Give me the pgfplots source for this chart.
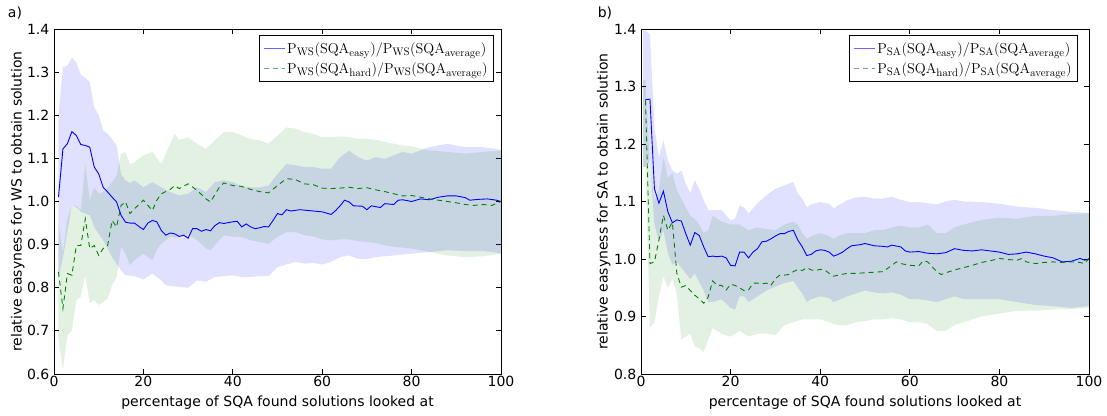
\documentclass[border=0pt]{standalone}
\usepackage[no-math]{fontspec}
\setmainfont{DejaVu Sans}
\usepackage{pgfplots}
\pgfplotsset{compat=1.18}
\usepgfplotslibrary{fillbetween}
\definecolor{mplblue}{rgb}{0,0,1}
\definecolor{mplgreen}{rgb}{0,0.5,0}
\pgfplotsset{
  panel/.style={
    scale only axis,
    width=447bp, height=345bp,
    xmin=0, xmax=100,
    xtick={0,20,...,100},
    tick align=inside,
    major tick length=5bp,
    axis line style={line width=0.9bp},
    every tick/.style={black, line width=0.8bp},
    /pgf/number format/assume math mode=true,
    tick label style={font=\fontsize{14bp}{16bp}\selectfont},
    label style={font=\fontsize{14bp}{16bp}\selectfont},
    yticklabel style={/pgf/number format/fixed, /pgf/number format/fixed zerofill, /pgf/number format/precision=1, inner xsep=0pt, xshift=-4.5bp},
    xticklabel style={inner ysep=2bp, inner xsep=0pt},
    xlabel={percentage of SQA found solutions looked at},
    xlabel style={at={(axis description cs:0.5,-0.083)}, anchor=center},
    ylabel style={at={(axis description cs:-0.081,0.5)}, anchor=center},
    legend style={at={(1,1)}, anchor=north east, xshift=-7bp, yshift=-6bp,
      draw=black, line width=0.8bp, font=\fontsize{15bp}{17bp}\selectfont,
      inner xsep=4bp, inner ysep=5bp, row sep=4bp, cells={anchor=west}},
    legend image code/.code={\draw[#1, line width=1.2bp, opacity=0.6] (0bp,0bp) -- (21bp,0bp);},
    legend cell align=left,
  },
  easyline/.style={mplblue, line width=0.9bp},
  hardline/.style={mplgreen, line width=0.9bp, dash pattern=on 5bp off 4bp},
}
\begin{document}
\begin{tikzpicture}
\path (0,0) rectangle (1107bp,416bp);
\node[font=\fontsize{14bp}{16bp}\selectfont] at (15bp,403bp) {a)};
\node[font=\fontsize{14bp}{16bp}\selectfont] at (605bp,403bp) {b)};
% ---------------- panel a ----------------
\begin{axis}[panel, at={(54bp,42bp)}, anchor=south west,
  ymin=0.6, ymax=1.4, ytick={0.6,0.7,...,1.41},
  ylabel={relative easyness for WS to obtain solution}]
\addplot[draw=none, name path=eu, forget plot] coordinates {(1,1.2)(2,1.311)(3,1.315)(4,1.333)(5,1.323)(6,1.294)(7,1.287)(8,1.277)(9,1.219)(10,1.2)(11,1.165)(12,1.157)(13,1.145)(14,1.13)(15,1.064)(16,1.049)(17,1.043)(18,1.049)(20,1.033)(22,1.045)(24,1.033)(26,1.022)(28,1.014)(30,1.018)(32,1.033)(34,1.022)(36,1.045)(38,1.049)(40,1.045)(42,1.035)(44,1.033)(46,1.033)(48,1.037)(50,1.064)(52,1.087)(54,1.084)(56,1.08)(58,1.08)(60,1.076)(62,1.076)(64,1.103)(66,1.118)(68,1.103)(70,1.095)(72,1.103)(74,1.099)(76,1.107)(78,1.115)(80,1.111)(84,1.126)(88,1.134)(92,1.126)(96,1.126)(100,1.12)};
\addplot[draw=none, name path=el, forget plot] coordinates {(1,0.82)(2,0.87)(3,0.93)(4,0.991)(5,0.987)(6,0.976)(7,0.972)(8,0.968)(9,0.941)(10,0.925)(11,0.91)(12,0.891)(13,0.871)(14,0.856)(15,0.84)(16,0.829)(18,0.827)(20,0.819)(22,0.833)(24,0.817)(25,0.806)(26,0.804)(28,0.802)(30,0.8)(32,0.817)(34,0.814)(36,0.825)(38,0.827)(40,0.829)(42,0.825)(44,0.825)(46,0.827)(48,0.827)(50,0.848)(52,0.854)(54,0.86)(56,0.856)(58,0.858)(60,0.854)(62,0.86)(64,0.871)(66,0.875)(68,0.867)(70,0.867)(72,0.871)(76,0.875)(80,0.879)(84,0.883)(88,0.887)(92,0.885)(96,0.885)(100,0.88)};
\addplot[mplblue, fill opacity=0.12, draw=none, forget plot] fill between[of=eu and el];
\addplot[draw=none, name path=hu, forget plot] coordinates {(1,0.95)(2,0.88)(3,0.96)(4,0.99)(5,0.99)(6,0.98)(7,1.087)(8,1.003)(9,1.033)(10,1.018)(11,1.022)(12,1.033)(13,1.045)(14,1.06)(15,1.111)(16,1.115)(17,1.087)(18,1.091)(20,1.107)(22,1.115)(24,1.087)(26,1.134)(27,1.157)(28,1.143)(30,1.149)(32,1.134)(34,1.122)(36,1.142)(38,1.161)(40,1.161)(42,1.153)(44,1.145)(46,1.142)(48,1.134)(50,1.153)(52,1.172)(54,1.169)(56,1.161)(58,1.157)(60,1.149)(62,1.149)(64,1.151)(66,1.149)(68,1.145)(70,1.145)(72,1.143)(74,1.138)(76,1.134)(78,1.13)(80,1.128)(84,1.118)(88,1.115)(92,1.111)(96,1.115)(100,1.118)};
\addplot[draw=none, name path=hl, forget plot] coordinates {(1,0.68)(2,0.61)(3,0.69)(4,0.70)(5,0.771)(6,0.779)(7,0.829)(8,0.764)(9,0.771)(10,0.76)(11,0.767)(12,0.775)(13,0.806)(14,0.825)(15,0.895)(16,0.879)(17,0.852)(18,0.864)(20,0.879)(22,0.864)(23,0.887)(24,0.902)(26,0.918)(28,0.918)(30,0.925)(32,0.91)(34,0.891)(35,0.887)(37,0.91)(38,0.922)(40,0.918)(42,0.918)(44,0.91)(46,0.906)(48,0.902)(50,0.918)(52,0.929)(54,0.929)(56,0.922)(58,0.919)(60,0.912)(62,0.91)(64,0.912)(66,0.912)(68,0.908)(70,0.906)(72,0.904)(74,0.898)(76,0.895)(78,0.893)(80,0.891)(84,0.883)(88,0.875)(92,0.871)(96,0.873)(100,0.879)};
\addplot[mplgreen, fill opacity=0.11, draw=none, forget plot] fill between[of=hu and hl];
\addplot[easyline] coordinates {(1,1.01)(2,1.122)(3,1.134)(4,1.162)(5,1.153)(6,1.132)(7,1.13)(8,1.126)(9,1.08)(10,1.064)(11,1.033)(12,1.022)(13,1.01)(14,0.999)(15,0.968)(16,0.952)(17,0.95)(18,0.95)(19,0.942)(20,0.935)(21,0.95)(22,0.956)(23,0.953)(24,0.933)(25,0.922)(26,0.927)(27,0.925)(28,0.919)(29,0.922)(30,0.915)(31,0.937)(32,0.937)(33,0.931)(34,0.935)(35,0.932)(36,0.944)(37,0.951)(38,0.949)(40,0.953)(41,0.954)(42,0.941)(43,0.948)(44,0.941)(45,0.937)(46,0.939)(47,0.942)(48,0.941)(49,0.956)(50,0.972)(51,0.969)(52,0.981)(53,0.978)(55,0.981)(57,0.979)(60,0.976)(62,0.97)(63,0.979)(64,0.99)(65,1.003)(66,0.999)(67,0.99)(69,0.989)(70,0.981)(71,0.99)(73,0.986)(74,0.995)(76,0.993)(77,1.003)(78,1.004)(80,1.0)(82,1.006)(84,1.004)(86,1.01)(88,1.013)(90,1.013)(92,1.009)(93,1.003)(95,1.005)(97,1.006)(99,1.003)(100,1.0)};
\addlegendentry{$\mathrm{P}_{\mathrm{WS}}(\mathrm{SQA}_{\mathrm{easy}})/\mathrm{P}_{\mathrm{WS}}(\mathrm{SQA}_{\mathrm{average}})$}
\addplot[hardline] coordinates {(1,0.837)(2,0.752)(3,0.833)(4,0.829)(5,0.898)(6,0.898)(7,0.96)(8,0.891)(9,0.898)(10,0.875)(11,0.891)(12,0.898)(13,0.956)(14,0.941)(15,0.991)(16,0.999)(17,0.972)(18,0.983)(20,1.003)(22,0.979)(23,1.003)(24,1.018)(26,1.028)(27,1.037)(28,1.03)(30,1.041)(32,1.026)(34,1.006)(35,0.999)(37,1.033)(38,1.043)(40,1.037)(42,1.035)(44,1.028)(46,1.023)(48,1.02)(50,1.037)(52,1.053)(54,1.051)(56,1.041)(58,1.039)(60,1.031)(62,1.03)(64,1.031)(66,1.033)(68,1.03)(70,1.032)(72,1.027)(74,1.023)(76,1.018)(78,1.013)(80,1.014)(82,1.01)(84,1.006)(86,1.003)(88,1.0)(90,0.997)(92,0.993)(94,0.991)(96,0.993)(98,0.991)(100,1.0)};
\addlegendentry{$\mathrm{P}_{\mathrm{WS}}(\mathrm{SQA}_{\mathrm{hard}})/\mathrm{P}_{\mathrm{WS}}(\mathrm{SQA}_{\mathrm{average}})$}
\end{axis}
% ---------------- panel b ----------------
\begin{axis}[panel, at={(641bp,42bp)}, anchor=south west, width=448bp,
  ymin=0.8, ymax=1.4, ytick={0.8,0.9,...,1.41},
  ylabel={relative easyness for SA to obtain solution},
  ylabel style={at={(axis description cs:-0.083,0.5)}, anchor=center},
  legend style={xshift=-4bp}]
\addplot[draw=none, name path=eu, forget plot] coordinates {(0.5,1.397)(1,1.397)(2,1.391)(3,1.229)(4,1.177)(5,1.206)(6,1.171)(7,1.154)(8,1.148)(9,1.154)(10,1.131)(11,1.114)(12,1.137)(13,1.122)(14,1.102)(15,1.085)(16,1.085)(18,1.085)(20,1.067)(21,1.07)(22,1.093)(23,1.09)(24,1.079)(26,1.097)(28,1.111)(30,1.122)(32,1.128)(34,1.134)(35,1.114)(36,1.105)(37,1.09)(38,1.095)(40,1.099)(42,1.096)(43,1.088)(44,1.093)(46,1.102)(48,1.107)(50,1.108)(52,1.105)(54,1.105)(56,1.108)(58,1.103)(60,1.099)(62,1.099)(64,1.097)(66,1.095)(68,1.1)(70,1.103)(72,1.1)(76,1.099)(80,1.096)(84,1.091)(88,1.089)(92,1.085)(96,1.082)(100,1.08)};
\addplot[draw=none, name path=el, forget plot] coordinates {(0.5,1.16)(1,1.16)(2,1.17)(3,1.06)(4,1.03)(5,1.05)(6,1.01)(7,0.99)(8,0.995)(9,0.985)(10,0.975)(11,0.965)(12,0.975)(13,0.96)(14,0.945)(15,0.925)(16,0.925)(18,0.93)(20,0.915)(21,0.912)(22,0.935)(23,0.935)(24,0.925)(26,0.935)(28,0.945)(30,0.952)(32,0.958)(34,0.962)(35,0.95)(36,0.94)(37,0.925)(38,0.93)(40,0.935)(42,0.932)(43,0.925)(44,0.928)(46,0.935)(48,0.94)(50,0.945)(52,0.942)(54,0.94)(56,0.942)(58,0.938)(60,0.93)(62,0.93)(64,0.928)(66,0.925)(68,0.93)(70,0.935)(72,0.93)(76,0.93)(80,0.93)(84,0.925)(88,0.92)(92,0.918)(96,0.915)(100,0.918)};
\addplot[mplblue, fill opacity=0.12, draw=none, forget plot] fill between[of=eu and el];
\addplot[draw=none, name path=hu, forget plot] coordinates {(0.5,1.31)(1,1.31)(2,1.16)(3,1.10)(4,1.12)(5,1.177)(6,1.14)(7,1.15)(8,1.12)(9,1.105)(10,1.09)(11,1.075)(12,1.07)(13,1.06)(14,1.045)(15,1.05)(16,1.075)(18,1.065)(20,1.06)(22,1.06)(24,1.05)(26,1.055)(28,1.052)(30,1.05)(32,1.06)(34,1.065)(35,1.06)(36,1.045)(37,1.035)(38,1.04)(40,1.045)(42,1.04)(43,1.035)(44,1.04)(46,1.045)(48,1.045)(50,1.045)(52,1.05)(54,1.05)(56,1.055)(58,1.058)(60,1.055)(62,1.055)(64,1.06)(66,1.045)(68,1.045)(70,1.055)(72,1.06)(76,1.068)(80,1.072)(84,1.07)(88,1.075)(92,1.075)(96,1.078)(100,1.08)};
\addplot[draw=none, name path=hl, forget plot] coordinates {(0.5,1.16)(1,1.16)(2,0.88)(3,0.89)(4,0.935)(5,0.97)(6,0.95)(7,0.965)(8,0.94)(9,0.86)(10,0.865)(11,0.87)(12,0.848)(13,0.845)(14,0.838)(15,0.86)(16,0.88)(18,0.87)(20,0.865)(22,0.875)(24,0.865)(26,0.87)(28,0.87)(30,0.868)(32,0.885)(34,0.89)(36,0.895)(38,0.895)(40,0.895)(42,0.89)(44,0.885)(46,0.885)(48,0.89)(50,0.892)(52,0.895)(54,0.895)(56,0.897)(58,0.895)(60,0.89)(62,0.89)(64,0.887)(66,0.875)(68,0.875)(70,0.885)(72,0.89)(76,0.9)(80,0.905)(84,0.91)(88,0.91)(92,0.912)(96,0.913)(100,0.915)};
\addplot[mplgreen, fill opacity=0.11, draw=none, forget plot] fill between[of=hu and hl];
\addplot[easyline] coordinates {(1,1.277)(2,1.278)(3,1.122)(4,1.097)(5,1.118)(6,1.082)(7,1.063)(8,1.068)(9,1.066)(10,1.044)(11,1.024)(12,1.046)(13,1.041)(14,1.021)(15,1.004)(16,1.005)(17,1.004)(18,1.005)(19,1.002)(20,0.989)(21,0.988)(22,1.012)(23,1.012)(24,1.002)(25,1.012)(26,1.018)(27,1.03)(28,1.031)(29,1.035)(30,1.04)(31,1.044)(32,1.044)(33,1.048)(34,1.05)(35,1.033)(36,1.021)(37,1.006)(38,1.008)(39,1.014)(40,1.016)(41,1.015)(42,1.012)(43,1.005)(44,1.008)(45,1.012)(46,1.018)(47,1.023)(48,1.024)(49,1.025)(50,1.027)(52,1.023)(54,1.022)(55,1.021)(56,1.024)(58,1.021)(59,1.014)(60,1.012)(62,1.013)(64,1.01)(66,1.009)(68,1.011)(70,1.018)(72,1.015)(74,1.014)(76,1.016)(78,1.014)(80,1.012)(82,1.008)(84,1.009)(86,1.012)(88,1.009)(90,1.005)(92,1.002)(94,0.995)(96,0.996)(98,1.001)(99,0.998)(100,1.0)};
\addlegendentry{$\mathrm{P}_{\mathrm{SA}}(\mathrm{SQA}_{\mathrm{easy}})/\mathrm{P}_{\mathrm{SA}}(\mathrm{SQA}_{\mathrm{average}})$}
\addplot[hardline] coordinates {(1,1.276)(2,0.992)(3,0.995)(4,1.033)(5,1.076)(6,1.05)(7,1.064)(8,0.975)(9,0.951)(10,0.954)(11,0.945)(12,0.937)(13,0.931)(14,0.923)(15,0.934)(16,0.962)(17,0.954)(18,0.954)(19,0.946)(20,0.956)(21,0.954)(22,0.95)(23,0.945)(24,0.946)(25,0.958)(26,0.958)(27,0.957)(28,0.958)(29,0.954)(30,0.966)(31,0.972)(32,0.972)(33,0.973)(34,0.978)(35,0.982)(36,0.98)(37,0.985)(38,0.981)(39,0.98)(40,0.982)(41,0.981)(42,0.975)(43,0.97)(44,0.972)(46,0.975)(48,0.975)(50,0.976)(52,0.977)(54,0.978)(56,0.989)(57,0.995)(58,0.992)(60,0.989)(62,0.988)(63,0.997)(64,0.995)(66,0.978)(67,0.973)(68,0.976)(70,0.981)(72,0.985)(74,0.989)(76,0.994)(78,0.997)(80,1.001)(82,0.999)(84,0.998)(85,1.001)(86,0.995)(88,0.992)(90,0.994)(92,0.995)(94,0.994)(96,0.995)(98,0.994)(99,0.992)(100,1.001)};
\addlegendentry{$\mathrm{P}_{\mathrm{SA}}(\mathrm{SQA}_{\mathrm{hard}})/\mathrm{P}_{\mathrm{SA}}(\mathrm{SQA}_{\mathrm{average}})$}
\end{axis}
\end{tikzpicture}
\end{document}
